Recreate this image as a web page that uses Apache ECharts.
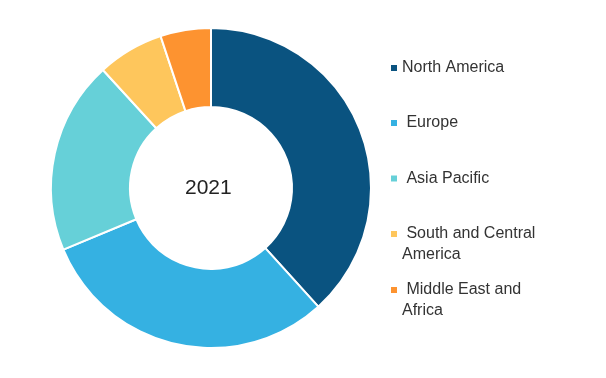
<!DOCTYPE html>
<html>
<head>
<meta charset="utf-8">
<script src="https://cdn.jsdelivr.net/npm/echarts@6/dist/echarts.min.js"></script>
<style>
  html, body { margin: 0; padding: 0; background: #fff; }
  #main { width: 606px; height: 378px; }
</style>
</head>
<body>
<div id="main"></div>
<script>
// regions, share of the 2021 market
const regions = ['North America', 'Europe', 'Asia Pacific', 'South and Central America', 'Middle East and Africa'];
const shares = [38.3, 30.4, 19.5, 6.7, 5.1];
const colors = ['#0a5380', '#35b1e2', '#66d0d8', '#fec65c', '#fd9330'];
// how each legend entry is written (leading space + line breaks as in the picture)
// the blank first line on the wrapped ones keeps the marker level with the first text line
const legendLabels = ['North America', ' Europe', ' Asia Pacific', '\n South and Central\nAmerica', '\n Middle East and\nAfrica'];
const yearLabel = '2021';

const chart = echarts.init(document.getElementById('main'));

// one legend per entry so the spacing can follow the picture
const legendCenters = [68, 123, 178.5, 234, 290];
const legends = regions.map(function (name, i) {
  const lines = legendLabels[i].split('\n').length;
  return {
    data: [name],
    left: 391,
    top: legendCenters[i] - lines * 21 / 2,
    padding: 0,
    itemWidth: 6,
    itemHeight: 6,
    icon: 'rect',
    selectedMode: false,
    itemStyle: { borderWidth: 0 },
    formatter: function () { return legendLabels[i]; },
    textStyle: {
      color: '#333',
      fontSize: 16,
      fontFamily: 'Liberation Sans, Arial, sans-serif',
      lineHeight: 21
    }
  };
});

chart.setOption({
  color: colors,
  animation: false,
  legend: legends,
  title: {
    text: yearLabel,
    left: 185,
    top: 178,
    padding: 0,
    textStyle: {
      color: '#222',
      fontSize: 21,
      fontWeight: 'normal',
      fontFamily: 'Liberation Sans, Arial, sans-serif'
    }
  },
  series: [
    {
      type: 'pie',
      center: [211, 188],
      radius: [81, 160],
      startAngle: 90,
      clockwise: true,
      label: { show: false },
      labelLine: { show: false },
      emphasis: { disabled: true },
      itemStyle: { borderColor: '#fff', borderWidth: 2 },
      data: regions.map(function (name, i) {
        return { name: name, value: shares[i] };
      })
    }
  ]
});
</script>
</body>
</html>
